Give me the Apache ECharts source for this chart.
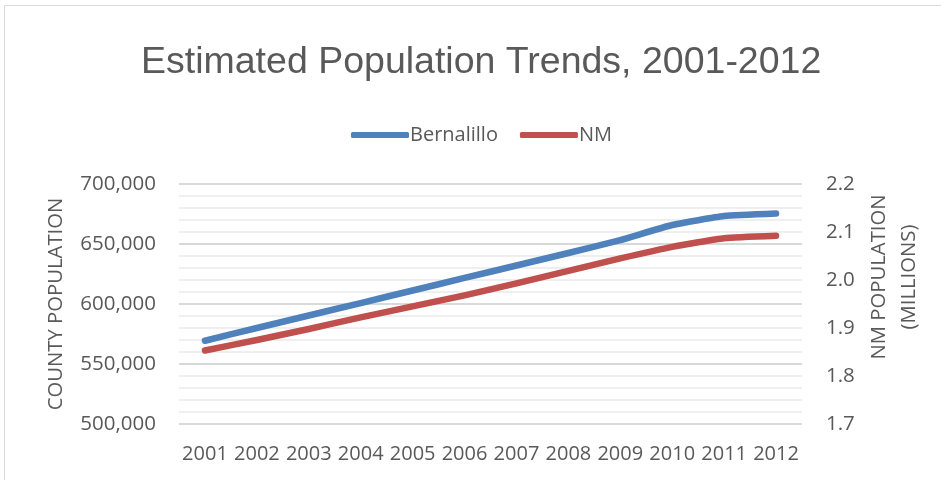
<!DOCTYPE html>
<html>
<head>
<meta charset="utf-8">
<script src="https://cdn.jsdelivr.net/npm/echarts@6/dist/echarts.min.js"></script>
<style>
  html, body { margin: 0; padding: 0; background: #ffffff; }
  #chart { width: 941px; height: 480px; }
</style>
</head>
<body>
<div id="chart"></div>
<script>
// Yearly population estimates
const years = ['2001', '2002', '2003', '2004', '2005', '2006', '2007', '2008', '2009', '2010', '2011', '2012'];
// Bernalillo County (persons)
const bernalillo = [569400, 580000, 590400, 600800, 611250, 621700, 632100, 642500, 653300, 665800, 673300, 675400];
// New Mexico statewide (millions)
const nm = [1.853, 1.875, 1.898, 1.922, 1.945, 1.968, 1.993, 2.019, 2.045, 2.069, 2.087, 2.092];

const titleText = 'Estimated Population Trends, 2001-2012';
const leftAxisName = 'COUNTY POPULATION';
const rightAxisName = 'NM POPULATION\n(MILLIONS)';

const axisFont = 'Open Sans';
const titleFont = '"Liberation Sans", Arial, sans-serif';
const textColor = '#595959';

const chart = echarts.init(document.getElementById('chart'), null, { renderer: 'canvas' });

chart.setOption({
  backgroundColor: '#ffffff',
  animation: false,
  title: {
    text: titleText,
    left: 136,
    top: 39,
    textStyle: { fontFamily: titleFont, fontSize: 37.5, fontWeight: 'normal', color: textColor }
  },
  legend: {
    top: 120,
    left: 346,
    itemWidth: 58,
    itemHeight: 6,
    itemGap: 22,
    icon: 'roundRect',
    textStyle: { fontFamily: axisFont, fontSize: 20, color: textColor, padding: [0, 0, 0, -4] },
    data: ['Bernalillo', 'NM']
  },
  grid: { left: 179, right: 139, top: 184, bottom: 56, containLabel: false },
  xAxis: {
    type: 'category',
    data: years,
    boundaryGap: true,
    axisLine: { show: false },
    axisTick: { show: false },
    axisLabel: { fontFamily: axisFont, fontSize: 20, color: textColor, margin: 20, interval: 0, hideOverlap: false }
  },
  yAxis: [
    {
      type: 'value',
      min: 500000,
      max: 700000,
      interval: 50000,
      axisLine: { show: false },
      axisTick: { show: false },
      axisLabel: {
        fontFamily: axisFont, fontSize: 20.5, color: textColor, margin: 23,
        formatter: v => v.toLocaleString('en-US')
      },
      splitLine: { show: true, lineStyle: { color: '#d9d9d9', width: 2 } },
      minorTick: { show: false, splitNumber: 5 },
      minorSplitLine: { show: true, lineStyle: { color: '#efefef', width: 2 } }
    },
    {
      type: 'value',
      min: 1.7,
      max: 2.2,
      interval: 0.1,
      axisLine: { show: false },
      axisTick: { show: false },
      splitLine: { show: false },
      axisLabel: {
        fontFamily: axisFont, fontSize: 20.5, color: textColor, margin: 24,
        formatter: v => v.toFixed(1)
      }
    }
  ],
  graphic: [
    {
      type: 'text',
      x: 56, y: 304,
      rotation: Math.PI / 2,
      style: {
        text: leftAxisName, fontFamily: axisFont, fontSize: 20.3, fill: textColor,
        align: 'center', verticalAlign: 'middle'
      }
    },
    {
      type: 'text',
      x: 894, y: 277,
      rotation: Math.PI / 2,
      style: {
        text: rightAxisName, fontFamily: axisFont, fontSize: 20.3, fill: textColor,
        align: 'center', verticalAlign: 'middle', lineHeight: 30
      }
    },
    {
      type: 'polyline',
      shape: { points: [[4.5, 480], [4.5, 5.5], [941, 5.5]] },
      style: { stroke: '#d9d9d9', lineWidth: 1, fill: null }
    }
  ],
  series: [
    {
      name: 'Bernalillo',
      type: 'line',
      yAxisIndex: 0,
      data: bernalillo,
      symbol: 'none',
      smooth: 0.15,
      color: '#4f81bd',
      lineStyle: { width: 6.5, color: '#4f81bd', cap: 'round', join: 'round' },
      z: 3
    },
    {
      name: 'NM',
      type: 'line',
      yAxisIndex: 1,
      data: nm,
      symbol: 'none',
      smooth: 0.15,
      color: '#c0504d',
      lineStyle: { width: 6.5, color: '#c0504d', cap: 'round', join: 'round' },
      z: 2
    }
  ]
});
</script>
</body>
</html>
